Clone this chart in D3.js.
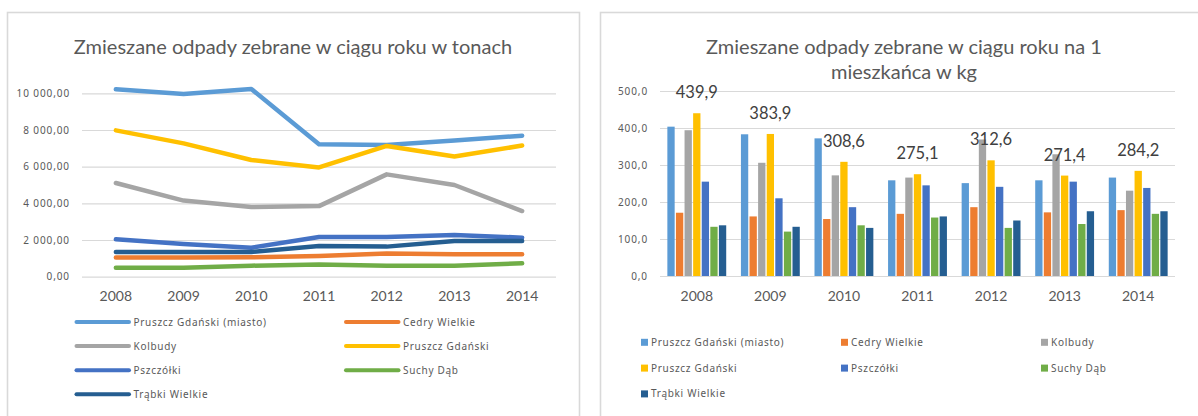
<!DOCTYPE html>
<html>
<head>
<meta charset="utf-8">
<script src="https://cdn.jsdelivr.net/npm/d3@7"></script>
<style>
  html, body { margin: 0; padding: 0; background: #ffffff; }
  svg { display: block; }
</style>
</head>
<body>
<svg id="chart" width="1198" height="416"></svg>
<script>
// Gminy powiatu gdańskiego – zmieszane odpady komunalne 2008–2014
const years = ["2008", "2009", "2010", "2011", "2012", "2013", "2014"];
const seriesNames = [
  "Pruszcz Gdański (miasto)", "Cedry Wielkie", "Kolbudy", "Pruszcz Gdański",
  "Pszczółki", "Suchy Dąb", "Trąbki Wielkie"
];
const seriesColors = ["#5B9BD5", "#ED7D31", "#A5A5A5", "#FFC000", "#4472C4", "#70AD47", "#255E91"];

// odpady w tonach
const tonsPruszczMiasto = [10220, 9960, 10240, 7220, 7180, 7420, 7690];
const tonsCedry        = [1050, 1050, 1060, 1130, 1270, 1220, 1220];
const tonsKolbudy      = [5110, 4150, 3800, 3850, 5580, 5000, 3580];
const tonsPruszcz      = [7980, 7270, 6360, 5960, 7130, 6550, 7150];
const tonsPszczolki    = [2040, 1780, 1580, 2160, 2160, 2270, 2130];
const tonsSuchyDab     = [490, 490, 600, 670, 600, 600, 730];
const tonsTrabki       = [1340, 1340, 1350, 1670, 1640, 1950, 1950];

// odpady na 1 mieszkańca w kg
const kgPruszczMiasto = [403.6, 383.0, 372.0, 258.6, 251.0, 258.6, 266.0];
const kgCedry         = [171.0, 161.0, 154.0, 168.0, 186.0, 172.0, 178.0];
const kgKolbudy       = [394.0, 306.0, 272.0, 266.0, 369.0, 329.0, 230.6];
const kgPruszcz       = [439.9, 383.9, 308.6, 275.1, 312.6, 271.4, 284.2];
const kgPszczolki     = [255.0, 210.0, 186.0, 245.0, 241.0, 255.0, 238.0];
const kgSuchyDab      = [133.0, 120.0, 137.0, 158.0, 130.0, 140.5, 168.0];
const kgTrabki        = [137.0, 133.0, 130.0, 161.0, 150.0, 175.0, 175.0];

const tonsTicks = [0, 2000, 4000, 6000, 8000, 10000];
const kgTicks = [0, 100, 200, 300, 400, 500];
const labelledSeries = "Pruszcz Gdański";

const tonsSeries = [tonsPruszczMiasto, tonsCedry, tonsKolbudy, tonsPruszcz, tonsPszczolki, tonsSuchyDab, tonsTrabki];
const kgSeries = [kgPruszczMiasto, kgCedry, kgKolbudy, kgPruszcz, kgPszczolki, kgSuchyDab, kgTrabki];

const pl = d3.formatLocale({ decimal: ",", thousands: " ", grouping: [3], currency: ["", " zł"] });
const fmtTons = pl.format(",.2f");
const fmtKg = pl.format(".1f");

const svg = d3.select("#chart");
const textGray = "#595959";
const gridGray = "#D9D9D9";
const smallFont = "'Noto Sans', sans-serif";
const mainFont = "Lato, 'Noto Sans', sans-serif";

// panel frames
svg.append("rect").attr("x", 7.5).attr("y", 12.5).attr("width", 572).attr("height", 420)
  .attr("fill", "#fff").attr("stroke", gridGray).attr("stroke-width", 1.6);
svg.append("rect").attr("x", 600.5).attr("y", 12.5).attr("width", 620).attr("height", 420)
  .attr("fill", "#fff").attr("stroke", gridGray).attr("stroke-width", 1.6);

// ---------- line chart: tonnes ----------
const L = svg.append("g");
const xL = d3.scaleBand().domain(years).range([82, 556]);
const yL = d3.scaleLinear().domain([0, 10000]).range([276.7, 93.3]);

L.append("text").attr("x", 293).attr("y", 54).attr("text-anchor", "middle")
  .attr("font-family", mainFont).attr("font-size", 20).attr("fill", textGray)
  .text("Zmieszane odpady zebrane w ciągu roku w tonach");

const yAxisL = L.append("g").attr("transform", "translate(82,0)")
  .call(d3.axisLeft(yL).tickValues(tonsTicks).tickFormat(fmtTons).tickSize(-474).tickPadding(12));
yAxisL.select(".domain").remove();
yAxisL.selectAll(".tick line").attr("stroke", gridGray).attr("stroke-width", 1.2);
yAxisL.selectAll(".tick text").attr("font-family", smallFont).attr("font-size", 10)
  .attr("letter-spacing", "0.9px").attr("fill", textGray);

const xAxisL = L.append("g").attr("transform", "translate(0,276.7)")
  .call(d3.axisBottom(xL).tickSize(0).tickPadding(14));
xAxisL.select(".domain").remove();
xAxisL.selectAll(".tick text").attr("font-family", mainFont).attr("font-size", 14).attr("fill", textGray);

const line = d3.line().x((d, i) => xL(years[i]) + xL.bandwidth() / 2).y(d => yL(d));
L.selectAll("path.series").data(tonsSeries).join("path").attr("class", "series")
  .attr("d", line).attr("fill", "none")
  .attr("stroke", (d, i) => seriesColors[i]).attr("stroke-width", 4.5)
  .attr("stroke-linejoin", "round").attr("stroke-linecap", "round");

// legend: two columns
const legL = L.append("g");
seriesNames.forEach((name, i) => {
  const col = i % 2, row = Math.floor(i / 2);
  const x0 = col === 0 ? 76.5 : 346;
  const y0 = 322 + row * 24.1;
  legL.append("line").attr("x1", x0).attr("x2", x0 + 52.5).attr("y1", y0).attr("y2", y0)
    .attr("stroke", seriesColors[i]).attr("stroke-width", 4).attr("stroke-linecap", "round");
  legL.append("text").attr("x", x0 + 57).attr("y", y0).attr("dy", "0.35em")
    .attr("font-family", smallFont).attr("font-size", 10).attr("letter-spacing", "0.7px")
    .attr("fill", textGray).text(name);
});

// ---------- bar chart: kg per inhabitant ----------
const R = svg.append("g");
const x0R = d3.scaleBand().domain(years).range([660, 1175]).paddingInner(0.2).paddingOuter(0.1);
const x1R = d3.scaleBand().domain(seriesNames).range([0, x0R.bandwidth()]).paddingInner(0.15);
const yR = d3.scaleLinear().domain([0, 500]).range([276, 91]);

R.append("text").attr("x", 904).attr("y", 54).attr("text-anchor", "middle")
  .attr("font-family", mainFont).attr("font-size", 20).attr("fill", textGray)
  .text("Zmieszane odpady zebrane w ciągu roku na 1");
R.append("text").attr("x", 904).attr("y", 79).attr("text-anchor", "middle")
  .attr("font-family", mainFont).attr("font-size", 20).attr("fill", textGray)
  .text("mieszkańca w kg");

const yAxisR = R.append("g").attr("transform", "translate(660,0)")
  .call(d3.axisLeft(yR).tickValues(kgTicks).tickFormat(fmtKg).tickSize(-515).tickPadding(12));
yAxisR.select(".domain").remove();
yAxisR.selectAll(".tick line").attr("stroke", gridGray).attr("stroke-width", 1.2);
yAxisR.selectAll(".tick text").attr("font-family", smallFont).attr("font-size", 10)
  .attr("letter-spacing", "0.9px").attr("fill", textGray);

const xAxisR = R.append("g").attr("transform", "translate(0,276)")
  .call(d3.axisBottom(x0R).tickSize(0).tickPadding(15));
xAxisR.select(".domain").remove();
xAxisR.selectAll(".tick text").attr("font-family", mainFont).attr("font-size", 14).attr("fill", textGray);

const groups = R.selectAll("g.year").data(years).join("g").attr("class", "year")
  .attr("transform", d => `translate(${x0R(d)},0)`);
groups.selectAll("rect").data((yr, yi) => seriesNames.map((s, si) => ({ s, si, v: kgSeries[si][yi] })))
  .join("rect")
  .attr("x", d => x1R(d.s)).attr("width", x1R.bandwidth())
  .attr("y", d => yR(d.v)).attr("height", d => yR(0) - yR(d.v))
  .attr("fill", d => seriesColors[d.si]);

// value labels for Pruszcz Gdański, centred over each year group
const labIdx = seriesNames.indexOf(labelledSeries);
R.selectAll("text.val").data(years).join("text").attr("class", "val")
  .attr("x", d => x0R(d) + x0R.bandwidth() / 2)
  .attr("y", (d, i) => yR(kgSeries[labIdx][i]) - 15)
  .attr("text-anchor", "middle").attr("font-family", mainFont).attr("font-size", 16.5)
  .attr("fill", "#404040").text((d, i) => fmtKg(kgSeries[labIdx][i]));

// legend: three columns
const legR = R.append("g");
const colX = [641, 841, 1041];
seriesNames.forEach((name, i) => {
  const col = i % 3, row = Math.floor(i / 3);
  const y0 = 342.3 + row * 25.8;
  legR.append("rect").attr("x", colX[col]).attr("y", y0 - 3.5).attr("width", 7).attr("height", 7)
    .attr("fill", seriesColors[i]);
  legR.append("text").attr("x", colX[col] + 10).attr("y", y0).attr("dy", "0.35em")
    .attr("font-family", smallFont).attr("font-size", 10).attr("letter-spacing", "0.7px")
    .attr("fill", textGray).text(name);
});
</script>
</body>
</html>
